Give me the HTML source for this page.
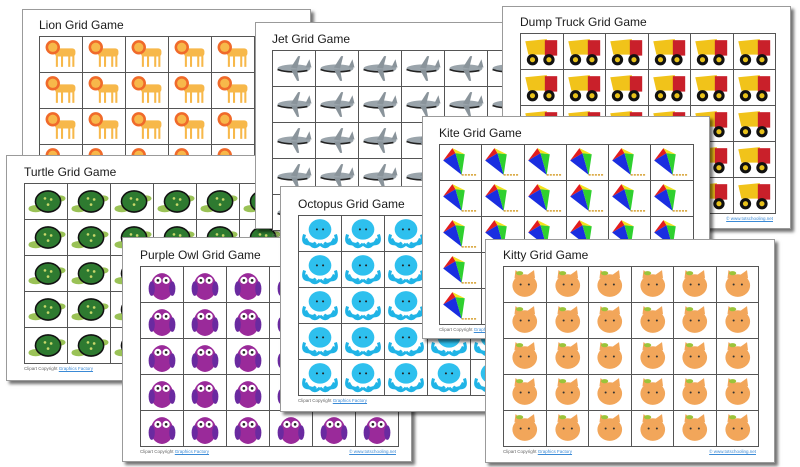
<!DOCTYPE html>
<html><head><meta charset="utf-8">
<style>
body{margin:0;width:800px;height:467px;background:#fff;position:relative;overflow:hidden;font-family:"Liberation Sans",sans-serif}
.page{position:absolute;background:#fff;border:1px solid #9a9a9a;box-shadow:3px 3px 3px rgba(0,0,0,.55);box-sizing:border-box}
.title{position:absolute;font-size:12px;color:#1a1a1a;white-space:nowrap}
.grid{position:absolute;border-collapse:collapse}
.grid td{border:1px solid #555;padding:0;background:#fff}
.grid svg{display:block}
.copy{position:absolute;font-size:4.5px;color:#666;white-space:nowrap}
.copy span{color:#3a8ad6;text-decoration:underline}
.copyr{position:absolute;font-size:4.5px;color:#3a8ad6;white-space:nowrap;text-decoration:underline}
</style></head><body>
<script>
const pages=[
 {n:'lion',t:'Lion Grid Game',x:22,y:9,w:289,h:222,gx:16,gy:26,cw:43,ch:36},
 {n:'turtle',t:'Turtle Grid Game',x:6,y:155,w:288,h:226,gx:17,gy:27,cw:43,ch:36},
 {n:'jet',t:'Jet Grid Game',x:255,y:22,w:288,h:207,gx:16,gy:27,cw:43,ch:36},
 {n:'dump-truck',t:'Dump Truck Grid Game',x:502,y:6,w:289,h:223,gx:17,gy:26,cw:42.5,ch:36},
 {n:'purple-owl',t:'Purple Owl Grid Game',x:122,y:237,w:290,h:225,gx:17,gy:28,cw:43,ch:36},
 {n:'octopus',t:'Octopus Grid Game',x:280,y:186,w:288,h:226,gx:17,gy:28,cw:43,ch:36},
 {n:'kite',t:'Kite Grid Game',x:422,y:116,w:288,h:223,gx:16,gy:27,cw:42.3,ch:36},
 {n:'kitty',t:'Kitty Grid Game',x:485,y:239,w:290,h:224,gx:17,gy:26,cw:42.5,ch:36}
];
const icons={
 'lion':'<rect x="14" y="11" width="20" height="8" rx="3" fill="#f7b84a"/><rect x="15" y="17" width="2" height="12" fill="#f7b84a"/><rect x="20" y="17" width="2" height="12" fill="#f7b84a"/><rect x="27" y="17" width="2" height="12" fill="#f7b84a"/><rect x="31" y="17" width="2" height="12" fill="#f7b84a"/><circle cx="12" cy="10" r="7" fill="#f06a2a"/><circle cx="12" cy="10" r="4.5" fill="#f7b84a"/>',
 'turtle':'<ellipse cx="10" cy="24" rx="7" ry="3.5" fill="#9ac256"/><ellipse cx="34" cy="14" rx="5" ry="3" fill="#9ac256"/><ellipse cx="22" cy="17" rx="13" ry="11" fill="#111"/><ellipse cx="22" cy="17" rx="11.5" ry="9.5" fill="#2e7a30"/><circle cx="19" cy="14" r="1.3" fill="#c9d86a"/><circle cx="25" cy="15" r="1.3" fill="#c9d86a"/><circle cx="22" cy="20" r="1.3" fill="#c9d86a"/>',
 'jet':'<ellipse cx="20" cy="17" rx="16" ry="4" fill="#9aa4ab"/><path d="M4 18 Q15 22 33 19" stroke="#222" stroke-width="1.5" fill="none"/><path d="M17 16 L24 5 L26 5 L23 17Z M17 18 L23 29 L25 29 L23 18Z M31 16 L35 8 L37 16Z" fill="#8a949b"/>',
 'dump-truck':'<path d="M4 7 L25 5 L24 20 L7 20Z" fill="#f1c31a"/><rect x="23" y="6" width="12" height="15" fill="#c9202a"/><circle cx="11" cy="25" r="5.5" fill="#111"/><circle cx="11" cy="25" r="2.5" fill="#e8c21a"/><circle cx="27" cy="25" r="5.5" fill="#111"/><circle cx="27" cy="25" r="2.5" fill="#e8c21a"/>',
 'purple-owl':'<ellipse cx="20" cy="19" rx="11" ry="13" fill="#9a2a9a"/><ellipse cx="10" cy="21" rx="3" ry="7" fill="#6a2aa0"/><ellipse cx="30" cy="21" rx="3" ry="7" fill="#6a2aa0"/><circle cx="16" cy="13" r="3.5" fill="#fff"/><circle cx="24" cy="13" r="3.5" fill="#fff"/><circle cx="16" cy="13" r="1.3" fill="#222"/><circle cx="24" cy="13" r="1.3" fill="#222"/>',
 'octopus':'<path d="M6 22 Q10 31 16 26 M10 26 Q14 33 20 27 M20 27 Q26 33 30 26 M24 26 Q30 31 34 22 M5 18 Q2 27 9 27 M35 18 Q38 27 31 27" stroke="#20b4e6" stroke-width="3" fill="none"/><ellipse cx="20" cy="13" rx="11" ry="10" fill="#2ec0ee"/><circle cx="17" cy="13" r="1" fill="#222"/><circle cx="23" cy="13" r="1" fill="#222"/>',
 'kite':'<path d="M12 3 L3 15 L15 8Z" fill="#e31d1d"/><path d="M12 3 L24 9 L15 8Z" fill="#f5e21a"/><path d="M3 15 L21 29 L15 8Z" fill="#1a2ee0"/><path d="M15 8 L24 9 L21 29Z" fill="#2fd02f"/><path d="M21 29 L35 29" stroke="#d6a030" stroke-width="1.5" stroke-dasharray="2 1"/>',
 'kitty':'<path d="M10 11 L11 3 L18 8Z M30 11 L29 3 L22 8Z" fill="#f2a65a"/><ellipse cx="20" cy="18" rx="12" ry="11" fill="#f2a65a"/><ellipse cx="15" cy="6" rx="3.5" ry="2" fill="#9bc43a"/><circle cx="16" cy="17" r="1" fill="#333"/><circle cx="24" cy="17" r="1" fill="#333"/>'
};
pages.forEach(p=>{
 const d=document.createElement('div');
 d.className='page';
 
 
 d.style.cssText=`left:${p.x}px;top:${p.y}px;width:${p.w}px;height:${p.h}px`;
 const t=document.createElement('div');
 t.className='title';
 
 
 t.style.cssText=`left:${p.gx}px;top:${p.gy-18}px`;
 t.textContent=p.t;
 d.appendChild(t);
 const tb=document.createElement('table');
 tb.className='grid';
 
 
 tb.style.cssText=`left:${p.gx}px;top:${p.gy}px`;
 for(let r=0;r<5;r++){
  const tr=document.createElement('tr');
  for(let c=0;c<6;c++){
   const td=document.createElement('td');
   
   
   td.innerHTML=`<svg width="${p.cw-1}" height="${p.ch-1}" viewBox="0 0 40 34">${icons[p.n]}</svg>`;
   tr.appendChild(td);
  }
  tb.appendChild(tr);
 }
 d.appendChild(tb);
 const cp=document.createElement('div');
 cp.className='copy';
 
 
 cp.style.cssText=`left:${p.gx}px;top:${p.gy+5*p.ch+3}px`;
 cp.innerHTML='Clipart Copyright <span>Graphics Factory</span>';
 d.appendChild(cp);
 const cr=document.createElement('div');
 cr.className='copyr';
 
 
 cr.style.cssText=`right:${p.w-p.gx-6*p.cw}px;top:${p.gy+5*p.ch+3}px`;
 cr.textContent='© www.totschooling.net';
 d.appendChild(cr);
 document.body.appendChild(d);
});
</script>
</body></html>
